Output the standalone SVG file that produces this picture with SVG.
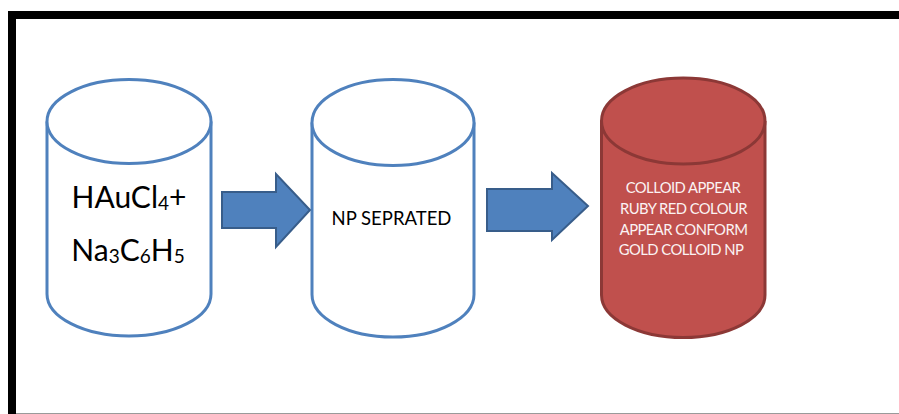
<svg xmlns="http://www.w3.org/2000/svg" width="899" height="414" viewBox="0 0 899 414">
  <style>
    .cyl-blue { fill: #ffffff; stroke: #4f81bd; stroke-width: 3; }
    .cyl-red { fill: #c0504d; stroke: #8c3836; stroke-width: 3; }
    .arrow { fill: #4f81bd; stroke: #385d8a; stroke-width: 2; stroke-linejoin: miter; }
    .label { font-family: Lato, "Liberation Sans", sans-serif; fill: #000000; text-anchor: middle; }
    .label-light { font-family: Lato, "Liberation Sans", sans-serif; fill: #fbf3f3; text-anchor: middle; font-size: 14.8px; letter-spacing: -0.55px; }
  </style>

  <!-- page background and frame -->
  <rect x="0" y="0" width="899" height="414" fill="#ffffff"/>
  <rect x="8" y="11" width="891" height="8" fill="#000000"/>
  <rect x="8" y="11" width="8" height="403" fill="#000000"/>
  <line x1="16" y1="413.5" x2="899" y2="413.5" stroke="#9a9a9a" stroke-width="1"/>

  <!-- reagents cylinder -->
  <g id="node-reagents">
    <path class="cyl-blue" d="M47,121.5 L47,294 A82,42 0 0 0 211,294 L211,121.5"/>
    <ellipse class="cyl-blue" cx="129" cy="121.5" rx="82" ry="42"/>
    <text class="label" x="129" y="208" font-size="30">HAuCl<tspan font-size="19" dy="2">4</tspan><tspan dy="-2">+</tspan></text>
    <text class="label" x="128" y="261" font-size="30">Na<tspan font-size="19" dy="2">3</tspan><tspan dy="-2">C</tspan><tspan font-size="19" dy="2">6</tspan><tspan dy="-2">H</tspan><tspan font-size="19" dy="2">5</tspan></text>
  </g>

  <!-- separation cylinder -->
  <g id="node-separated">
    <path class="cyl-blue" d="M312,122.5 L312,294.5 A81,42.5 0 0 0 474,294.5 L474,122.5"/>
    <ellipse class="cyl-blue" cx="393" cy="122.5" rx="81" ry="43"/>
    <text class="label" x="391.5" y="225" font-size="18.5">NP SEPRATED</text>
  </g>

  <!-- colloid cylinder -->
  <g id="node-colloid">
    <path class="cyl-red" d="M601.5,121 L601.5,295 A81.75,42.5 0 0 0 765,295 L765,121"/>
    <ellipse class="cyl-red" cx="683.25" cy="121" rx="81.75" ry="43"/>
    <text class="label-light" x="683" y="193">COLLOID APPEAR</text>
    <text class="label-light" x="683.5" y="214">RUBY RED COLOUR</text>
    <text class="label-light" x="683.5" y="234.5">APPEAR CONFORM</text>
    <text class="label-light" x="681" y="255">GOLD COLLOID NP</text>
  </g>

  <!-- connectors -->
  <g id="connectors">
    <polygon class="arrow" points="222,192 276,192 276,174 310,210 276,247 276,228 222,228"/>
    <polygon class="arrow" points="487,189 552,189 552,173 588,206 552,240 552,231 487,231"/>
  </g>
</svg>
